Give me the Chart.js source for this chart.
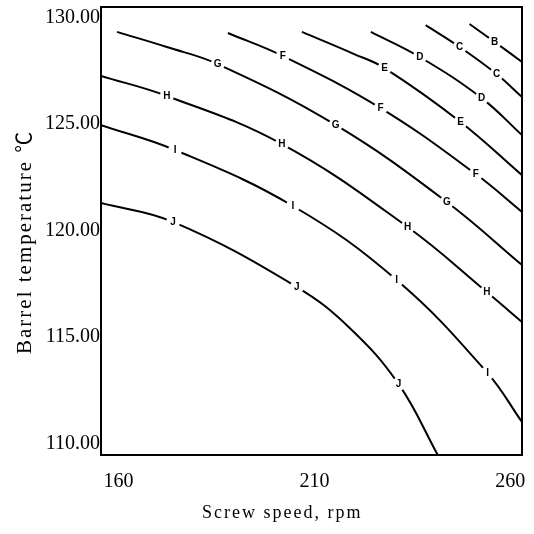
<!DOCTYPE html>
<html>
<head>
<meta charset="utf-8">
<script src="https://cdn.jsdelivr.net/npm/chart.js@4.4.1/dist/chart.umd.min.js"></script>
<style>
html,body{margin:0;padding:0;background:#fff;}
#wrap{width:534px;height:534px;position:relative;}
</style>
</head>
<body>
<div id="wrap"><canvas id="c"></canvas></div>
<script>
// ---- data ----
const xTickValues = [160, 210, 260];
const yTickValues = [110, 115, 120, 125, 130];
const xRange = [155.5, 263];
const yRange = [109.45, 130.5];

const contourNames = ['B', 'C', 'D', 'E', 'F', 'G', 'H', 'I', 'J'];

const contourB = [[249.6,129.7],[256.0,128.86],[263,127.92]];
const contourC = [[238.4,129.65],[247.1,128.62],[256.5,127.35],[263,126.27]];
const contourD = [[224.4,129.33],[236.9,128.15],[252.7,126.22],[263,124.48]];
const contourE = [[206.8,129.33],[220.0,128.3],[227.9,127.63],[247.3,125.1],[263,122.6]];
const contourF = [[187.9,129.28],[201.9,128.2],[226.9,125.75],[251.2,122.65],[263,120.87]];
const contourG = [[159.6,129.33],[172.3,128.62],[185.3,127.82],[215.4,124.96],[243.8,121.34],[263,118.38]];
const contourH = [[155.5,127.26],[172.3,126.32],[201.7,124.06],[233.8,120.16],[254.0,117.11],[263,115.7]];
const contourI = [[155.5,124.95],[174.4,123.78],[204.5,121.15],[231.0,117.67],[254.2,113.3],[263,111.0]];
const contourJ = [[155.5,121.29],[173.9,120.4],[205.5,117.34],[219.0,115.42],[231.5,112.78],[241.5,109.45]];

const labelsB = [[256.0,128.86]];
const labelsC = [[247.1,128.62],[256.5,127.35]];
const labelsD = [[236.9,128.15],[252.7,126.22]];
const labelsE = [[227.9,127.63],[247.3,125.1]];
const labelsF = [[201.9,128.2],[226.9,125.75],[251.2,122.65]];
const labelsG = [[185.3,127.82],[215.4,124.96],[243.8,121.34]];
const labelsH = [[172.3,126.32],[201.7,124.06],[233.8,120.16],[254.0,117.11]];
const labelsI = [[174.4,123.78],[204.5,121.15],[231.0,117.67],[254.2,113.3]];
const labelsJ = [[173.9,120.4],[205.5,117.34],[231.5,112.78]];

const xTitle = 'Screw speed, rpm';
const yTitle = 'Barrel temperature ℃';

// ---- build ----
const contours = [contourB, contourC, contourD, contourE, contourF, contourG, contourH, contourI, contourJ];
const labelSets = [labelsB, labelsC, labelsD, labelsE, labelsF, labelsG, labelsH, labelsI, labelsJ];
const serif = "'Liberation Serif', 'Times New Roman', 'Noto Sans CJK JP', serif";
const NB = '\u00A0';

const datasets = contours.map((pts, i) => ({
  label: contourNames[i],
  data: pts.map(p => ({x: p[0], y: p[1]})),
  showLine: true,
  borderColor: '#000',
  borderWidth: 2,
  pointRadius: 0,
  fill: false,
  tension: 0.4
}));

const contourPlugin = {
  id: 'contourDeco',
  beforeDraw(chart) { chart.ctx.letterSpacing = '2px'; },
  beforeDatasetsDraw(chart) { chart.ctx.letterSpacing = '0px'; },
  afterDatasetsDraw(chart) {
    const {ctx, scales: {x, y}} = chart;
    ctx.save();
    ctx.font = "bold 10px 'Liberation Sans', Arial, sans-serif";
    ctx.textAlign = 'center';
    ctx.textBaseline = 'middle';
    labelSets.forEach((set, i) => {
      set.forEach(p => {
        const px = x.getPixelForValue(p[0]);
        const py = y.getPixelForValue(p[1]);
        ctx.fillStyle = '#fff';
        ctx.beginPath();
        ctx.arc(px, py, 7, 0, Math.PI * 2);
        ctx.fill();
        ctx.fillStyle = '#000';
        ctx.fillText(contourNames[i], px, py + 0.5);
      });
    });
    ctx.restore();
  },
  afterDraw(chart) {
    const {ctx, chartArea: a} = chart;
    ctx.save();
    ctx.strokeStyle = '#000';
    ctx.lineWidth = 2;
    ctx.strokeRect(a.left, a.top, a.right - a.left, a.bottom - a.top);
    ctx.restore();
  }
};

new Chart(document.getElementById('c'), {
  type: 'scatter',
  data: { datasets },
  plugins: [contourPlugin],
  options: {
    responsive: true,
    maintainAspectRatio: false,
    animation: false,
    devicePixelRatio: 1,
    layout: { padding: { top: 7, right: 12, bottom: 0, left: 0 } },
    plugins: { legend: { display: false }, tooltip: { enabled: false } },
    scales: {
      x: {
        type: 'linear',
        min: xRange[0],
        max: xRange[1],
        afterBuildTicks: s => { s.ticks = xTickValues.map(v => ({value: v})); },
        afterFit: s => { s.height = 79; s.paddingLeft = 0; s.paddingRight = 0; },
        grid: { display: false, drawTicks: false },
        border: { display: false },
        ticks: {
          z: 1, padding: 15, color: '#000', autoSkip: false, maxRotation: 0,
          font: { family: serif, size: 20 },
          callback: v => String(v)
        },
        title: {
          display: true, text: xTitle + NB.repeat(9), color: '#000',
          font: { family: serif, size: 18 },
          padding: { top: 0, bottom: 10 }
        }
      },
      y: {
        type: 'linear',
        min: yRange[0],
        max: yRange[1],
        afterBuildTicks: s => { s.ticks = yTickValues.map(v => ({value: v})); },
        afterFit: s => { s.width = 101; s.paddingTop = 0; s.paddingBottom = 0; },
        grid: { display: false, drawTicks: false },
        border: { display: false },
        ticks: {
          z: 1, padding: 1, color: '#000', autoSkip: false,
          font: { family: serif, size: 20 },
          callback: v => Number(v).toFixed(2)
        },
        title: {
          display: true, text: yTitle + NB.repeat(3), color: '#000',
          font: { family: serif, size: 21 },
          padding: { top: 13, bottom: 0 }
        }
      }
    }
  }
});
</script>
</body>
</html>
